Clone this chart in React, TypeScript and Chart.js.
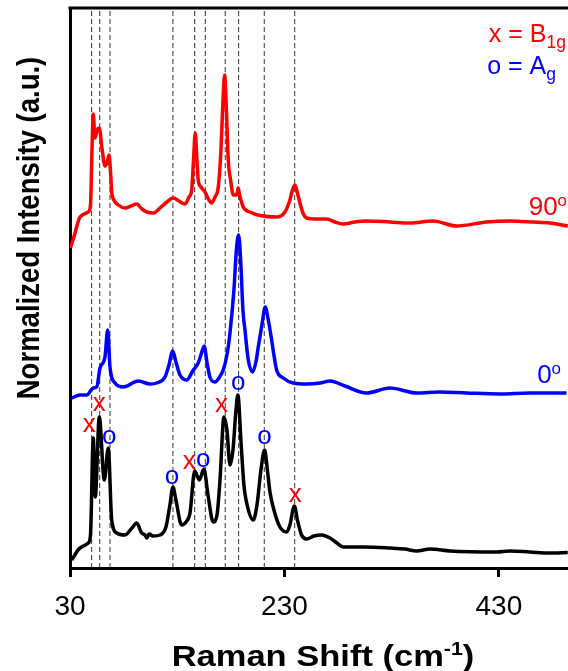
import React, { useEffect, useRef } from 'react';
import { Chart, registerables } from 'chart.js';

Chart.register(...registerables);

// Raman shift (cm-1), normalized intensity (offset) pairs for each spectrum
const spectrum90: [number, number][] = [
  [30.5, 3.2], [34.7, 3.35], [39.3, 3.51], [47.1, 3.56], [49.1, 3.63], [50.5, 4.18], [51.7, 4.54], [53.3, 4.3],
  [55.2, 4.38], [57.3, 4.4], [59.8, 4.2], [62.6, 4.02], [64.5, 4.05], [66.4, 4.13], [67.8, 3.96], [68.9, 3.76],
  [71.0, 3.68], [75.0, 3.63], [81.3, 3.6], [86.9, 3.62], [92.2, 3.64], [97.1, 3.59], [101.8, 3.56], [107.7, 3.55],
  [113.9, 3.6], [120.4, 3.66], [126.3, 3.7], [131.6, 3.67], [137.2, 3.64], [141.0, 3.71], [143.5, 3.78], [145.2, 4.08],
  [146.8, 4.35], [148.4, 4.08], [149.6, 3.88], [152.1, 3.81], [155.9, 3.76], [159.6, 3.68], [162.1, 3.65], [165.2, 3.71],
  [168.3, 3.81], [170.8, 4.18], [172.7, 4.68], [174.2, 4.93], [175.9, 4.58], [177.6, 4.08], [179.8, 3.88], [182.3, 3.73],
  [185.4, 3.73], [186.9, 3.8], [188.0, 3.74], [191.6, 3.61], [197.8, 3.56], [207.2, 3.525], [222.7, 3.51], [230.5, 3.56],
  [235.1, 3.68], [237.5, 3.78], [239.8, 3.83], [242.1, 3.75], [244.5, 3.65], [247.3, 3.55], [250.7, 3.5], [258.4, 3.49],
  [269.3, 3.49], [277.1, 3.46], [284.8, 3.44], [295.7, 3.46], [306.6, 3.47], [328.4, 3.46], [347.0, 3.45], [368.7, 3.47],
  [390.6, 3.42], [418.5, 3.46], [440.3, 3.47], [462.0, 3.46], [477.6, 3.45], [494.3, 3.42],
];

const spectrum0: [number, number][] = [
  [31.6, 1.7], [39.3, 1.73], [45.6, 1.73], [51.7, 1.8], [54.9, 1.81], [58.0, 2.0], [62.6, 2.11], [65.2, 2.38],
  [67.3, 2.01], [72.0, 1.85], [79.7, 1.81], [93.7, 1.87], [104.6, 1.84], [110.8, 1.85], [118.6, 1.91], [122.3, 2.03],
  [125.8, 2.17], [128.8, 2.06], [132.6, 1.93], [138.8, 1.88], [145.0, 1.98], [149.6, 2.05], [152.1, 2.13], [155.2, 2.22],
  [157.7, 2.06], [160.5, 1.91], [165.2, 1.86], [168.9, 1.9], [172.9, 1.98], [176.4, 2.13], [179.2, 2.35], [182.9, 2.78],
  [185.2, 3.18], [187.3, 3.33], [189.4, 3.03], [191.3, 2.58], [193.2, 2.38], [196.3, 2.08], [200.3, 1.96], [203.4, 2.06],
  [205.6, 2.21], [209.0, 2.43], [212.1, 2.61], [214.6, 2.5], [218.1, 2.28], [220.2, 2.13], [222.7, 1.98], [228.9, 1.9],
  [238.2, 1.85], [250.7, 1.84], [263.1, 1.85], [272.4, 1.87], [286.4, 1.82], [306.6, 1.75], [328.4, 1.8], [353.3, 1.75],
  [375.0, 1.76], [399.9, 1.75], [431.0, 1.74], [459.0, 1.75], [493.1, 1.75],
];

const spectrumRef: [number, number][] = [
  [31.6, 0.08], [39.3, 0.2], [47.1, 0.25], [49.1, 0.33], [51.7, 1.3], [53.6, 0.71], [57.3, 1.51], [62.0, 0.88],
  [65.7, 1.2], [68.9, 0.48], [73.5, 0.35], [81.3, 0.33], [87.8, 0.4], [92.2, 0.45], [96.9, 0.35], [99.9, 0.33],
  [101.8, 0.3], [103.7, 0.34], [107.4, 0.32], [113.9, 0.33], [119.5, 0.41], [123.2, 0.63], [126.0, 0.81], [128.8, 0.68],
  [134.1, 0.43], [138.2, 0.46], [141.9, 0.55], [146.3, 0.97], [150.6, 0.88], [154.9, 0.99], [158.7, 0.73], [163.6, 0.46],
  [167.1, 0.53], [169.9, 0.88], [173.6, 1.51], [176.4, 1.38], [179.2, 1.03], [182.0, 1.18], [184.8, 1.58], [186.6, 1.73],
  [189.4, 1.28], [192.2, 0.83], [194.8, 0.65], [200.9, 0.48], [204.4, 0.63], [208.1, 0.98], [211.5, 1.18], [214.1, 0.98],
  [216.5, 0.76], [220.2, 0.58], [225.8, 0.41], [232.1, 0.36], [235.1, 0.43], [239.3, 0.62], [242.1, 0.48], [246.0, 0.33],
  [250.7, 0.29], [257.5, 0.32], [264.7, 0.33], [272.4, 0.3], [279.0, 0.25], [284.8, 0.21], [305.1, 0.21], [328.4, 0.2],
  [342.4, 0.19], [353.3, 0.17], [365.7, 0.19], [384.3, 0.17], [427.9, 0.16], [440.3, 0.17], [459.0, 0.16], [477.6, 0.15],
  [494.3, 0.155],
];

// Peak positions marked with dashed guide lines (cm-1)
const peakLines = [50.2, 57.7, 67.3, 126.0, 146.3, 156.2, 174.8, 187.3, 211.2, 239.6];

// Mode assignments on the reference spectrum: [shift, label height]
const b1gMarks: [number, number][] = [[48.0, 1.43], [57.3, 1.64], [141.2, 1.06], [171.4, 1.63], [240.1, 0.73]];
const agMarks: [number, number][] = [[66.6, 1.31], [125.1, 0.91], [154.3, 1.08], [186.9, 1.85], [211.5, 1.31]];

const xTicks = [30, 230, 430];
const X_MIN = 30;
const X_MAX = 494.5;
const Y_MIN = 0;
const Y_MAX = 5.6;

const FAM = 'Arial, "Liberation Sans", sans-serif';

type Part = [string, number]; // 0 normal, 1 sup, 2 sub

function richWidth(ctx: CanvasRenderingContext2D, parts: Part[], size: number, bold: boolean, sub: number) {
  let w = 0;
  for (const [t, k] of parts) {
    ctx.font = `${bold ? 'bold ' : ''}${k ? size * sub : size}px ${FAM}`;
    w += ctx.measureText(t).width;
  }
  return w;
}

function drawRich(
  ctx: CanvasRenderingContext2D,
  parts: Part[],
  x: number,
  y: number,
  size: number,
  bold: boolean,
  color: string,
  align: 'left' | 'center' | 'right',
  sub = 0.65,
) {
  const total = richWidth(ctx, parts, size, bold, sub);
  let cx = align === 'center' ? x - total / 2 : align === 'right' ? x - total : x;
  ctx.fillStyle = color;
  ctx.textAlign = 'left';
  ctx.textBaseline = 'alphabetic';
  for (const [t, k] of parts) {
    ctx.font = `${bold ? 'bold ' : ''}${k ? size * sub : size}px ${FAM}`;
    const dy = k === 1 ? -size * 0.36 : k === 2 ? size * 0.22 : 0;
    ctx.fillText(t, cx, y + dy);
    cx += ctx.measureText(t).width;
  }
}

const overlay = {
  id: 'overlay',
  afterDraw(chart: any) {
    const { ctx, chartArea, scales } = chart;
    const xs = scales.x;
    const ys = scales.y;
    ctx.save();
    // top frame line
    ctx.strokeStyle = '#000';
    ctx.lineWidth = 3;
    ctx.beginPath();
    ctx.moveTo(chartArea.left - 1.5, chartArea.top);
    ctx.lineTo(chartArea.right, chartArea.top);
    ctx.stroke();

    // mode markers
    const mk = 26;
    ctx.font = `${mk}px ${FAM}`;
    ctx.textAlign = 'center';
    ctx.textBaseline = 'alphabetic';
    ctx.fillStyle = '#ff0000';
    for (const [sx, h] of b1gMarks) ctx.fillText('x', xs.getPixelForValue(sx), ys.getPixelForValue(h) + mk * 0.26);
    ctx.fillStyle = '#0000ff';
    for (const [sx, h] of agMarks) ctx.fillText('o', xs.getPixelForValue(sx), ys.getPixelForValue(h) + mk * 0.26);

    // legend
    drawRich(ctx, [['x = B', 0], ['1g', 2]], 566, 42, 25, false, '#ff0000', 'right', 0.7);
    drawRich(ctx, [['o = A', 0], ['g', 2]], 556, 74, 25, false, '#0000ff', 'right', 0.7);

    // series labels
    drawRich(ctx, [['90', 0], ['o', 1]], 567, 215, 26, false, '#ff0000', 'right');
    drawRich(ctx, [['0', 0], ['o', 1]], 561, 383, 26, false, '#0000ff', 'right');

    // x axis title
    ctx.save();
    ctx.translate(323, 666);
    ctx.scale(1.15, 1);
    drawRich(ctx, [['Raman Shift (cm', 0], ['-1', 1], [')', 0]], 0, 0, 30, true, '#000', 'center', 0.62);
    ctx.restore();

    // y axis title
    ctx.save();
    ctx.translate(39, 228);
    ctx.rotate(-Math.PI / 2);
    ctx.scale(0.86, 1);
    drawRich(ctx, [['Normalized Intensity (a.u.)', 0]], 0, 0, 32, true, '#000', 'center');
    ctx.restore();

    ctx.restore();
  },
};

export default function App() {
  const ref = useRef<HTMLCanvasElement>(null);
  useEffect(() => {
    const canvas = ref.current;
    if (!canvas) return;
    const curve = (label: string, pts: [number, number][], color: string) => ({
      label,
      data: pts.map(([x, y]) => ({ x, y })),
      borderColor: color,
      backgroundColor: color,
      borderWidth: 3.5,
      pointRadius: 0,
      fill: false,
      cubicInterpolationMode: 'monotone' as const,
      order: 1,
    });
    const guides = peakLines.map((p) => ({
      label: `peak ${p}`,
      data: [
        { x: p, y: Y_MIN },
        { x: p, y: Y_MAX },
      ],
      borderColor: '#333333',
      borderWidth: 1,
      borderDash: [5, 3],
      pointRadius: 0,
      fill: false,
      order: 5,
    }));
    const chart = new Chart(canvas, {
      type: 'line',
      data: {
        datasets: [
          curve('90°', spectrum90, '#ff0000'),
          curve('0°', spectrum0, '#0000ff'),
          curve('reference', spectrumRef, '#000000'),
          ...guides,
        ] as any,
      },
      options: {
        animation: false,
        responsive: false,
        maintainAspectRatio: false,
        layout: { padding: { top: 8, left: 0, right: 0, bottom: 0 } },
        plugins: { legend: { display: false }, tooltip: { enabled: false } },
        scales: {
          x: {
            type: 'linear',
            min: X_MIN,
            max: X_MAX,
            afterBuildTicks: (s: any) => {
              s.ticks = xTicks.map((v) => ({ value: v }));
            },
            afterFit: (s: any) => {
              s.height = 103;
            },
            ticks: {
              color: '#000',
              font: { family: FAM, size: 28 },
              padding: 13,
              maxRotation: 0,
              autoSkip: false,
            },
            grid: {
              display: true,
              drawOnChartArea: false,
              drawTicks: true,
              tickLength: 9,
              tickWidth: 3,
              tickColor: '#000',
            },
            border: { display: true, color: '#000', width: 3 },
          },
          y: {
            type: 'linear',
            min: Y_MIN,
            max: Y_MAX,
            ticks: { display: false },
            grid: { display: true, drawOnChartArea: false, drawTicks: false },
            border: { display: true, color: '#000', width: 3 },
            afterFit: (s: any) => {
              s.width = 70;
            },
          },
        },
      },
      plugins: [overlay],
    });
    return () => chart.destroy();
  }, []);
  return (
    <div style={{ position: 'absolute', left: 0, top: 0, width: 568, height: 671, background: '#fff' }}>
      <canvas ref={ref} width={568} height={671} style={{ display: 'block' }} />
    </div>
  );
}
